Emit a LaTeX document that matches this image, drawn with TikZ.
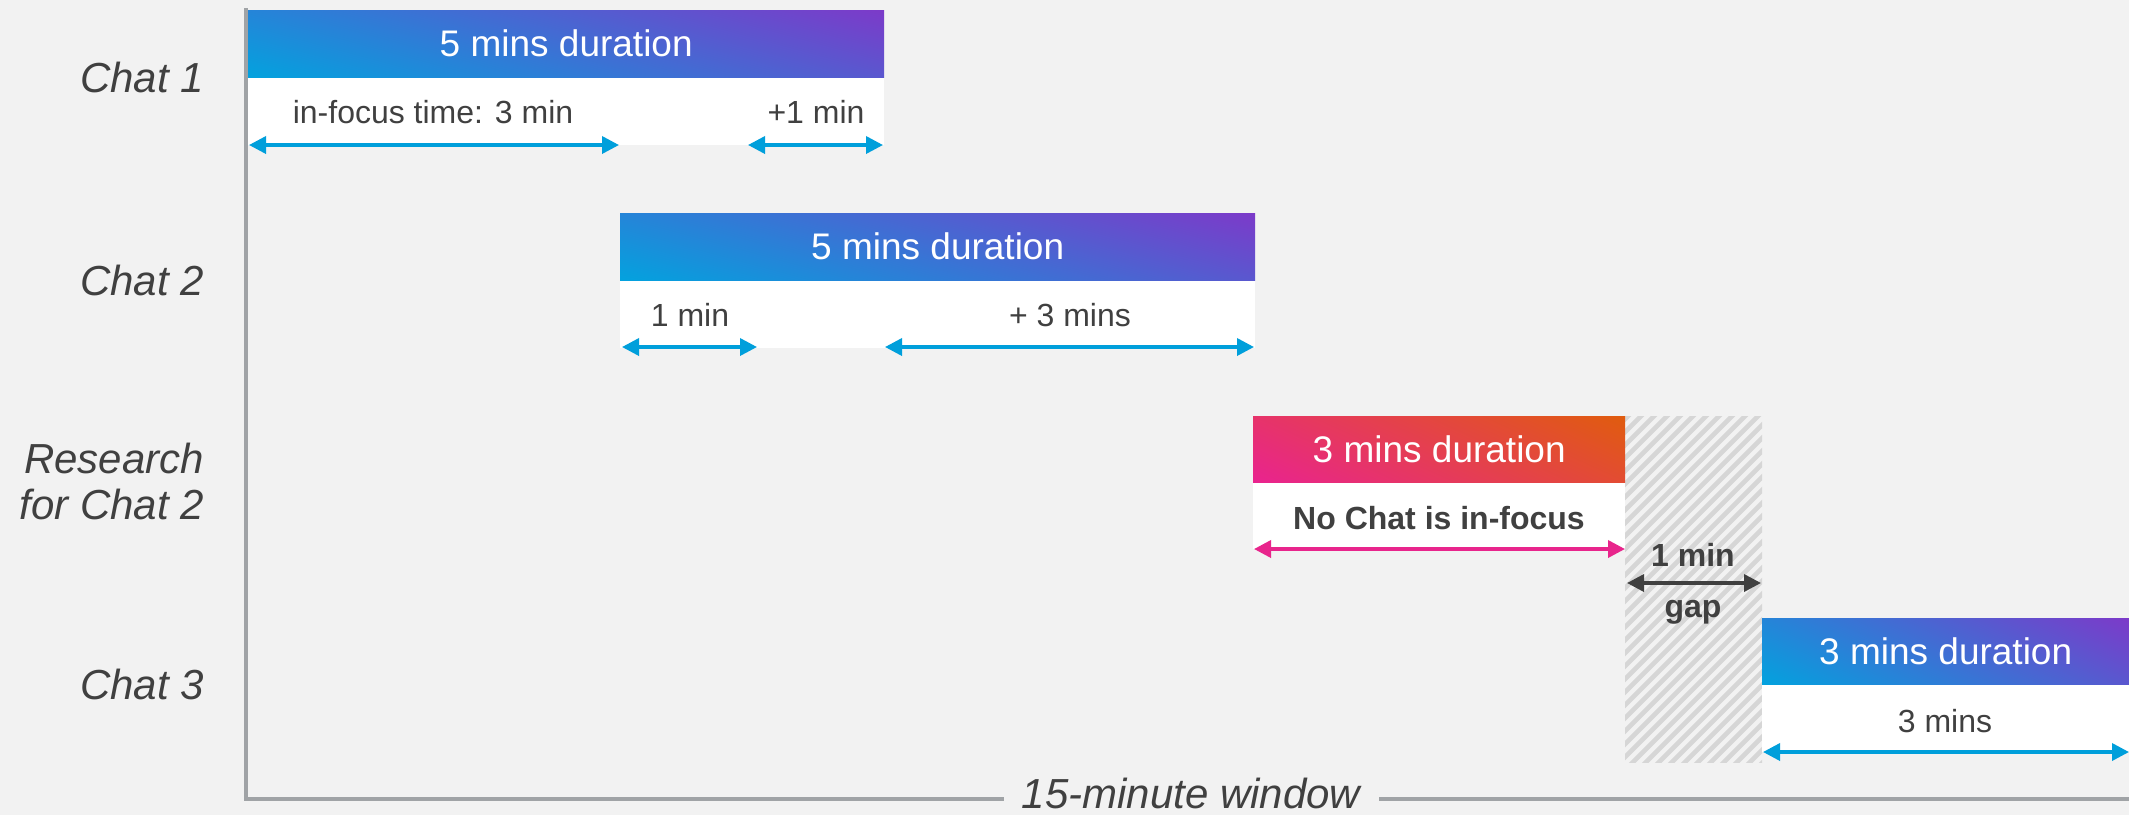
\documentclass[tikz,border=0pt]{standalone}
\usepackage{fontspec}
\setmainfont{Liberation Sans}
\usetikzlibrary{arrows.meta,shadings}
\definecolor{bg}{HTML}{F2F2F2}
\definecolor{txt}{HTML}{404040}
\definecolor{axisgray}{HTML}{A0A3A6}
\definecolor{cyanA}{HTML}{03A2DE}
\definecolor{purpleA}{HTML}{7C3AC9}
\definecolor{pinkA}{HTML}{E9238F}
\definecolor{orangeA}{HTML}{E05C0E}
\definecolor{arrowblue}{HTML}{009FDB}
\definecolor{arrowpink}{HTML}{E8258C}
\definecolor{hatchgray}{HTML}{D6D6D6}
\begin{document}
\begin{tikzpicture}[x=1pt,y=-1pt,
  hdr/.style={draw=none, text=white, font=\fontsize{37}{44}\selectfont, anchor=north west, inner sep=0pt, minimum height=67pt},
  hdrblue/.style={hdr, lower left=cyanA, upper right=purpleA, upper left=cyanA!72!purpleA, lower right=cyanA!28!purpleA},
  hdrpink/.style={hdr, lower left=pinkA, upper right=orangeA, upper left=pinkA!72!orangeA, lower right=pinkA!28!orangeA},
  bodybox/.style={fill=white, draw=none, anchor=north west, inner sep=0pt, minimum height=68pt},
  bodytxt/.style={text=txt, font=\fontsize{32}{38}\selectfont, anchor=base, inner sep=0pt},
  boldtxt/.style={bodytxt, font=\fontsize{32}{38}\selectfont\bfseries},
  rowlabel/.style={text=txt, font=\fontsize{42}{46}\selectfont\itshape, inner sep=0pt},
  dimarrow/.style={line width=3.5pt, {Triangle[length=17pt,width=17pt]}-{Triangle[length=17pt,width=17pt]}},
  bluearrow/.style={dimarrow, draw=arrowblue},
  pinkarrow/.style={dimarrow, draw=arrowpink},
  grayarrow/.style={dimarrow, draw=txt},
  axisline/.style={draw=axisgray, line width=3.5pt},
  stripe/.style={draw=hatchgray, line width=4.6pt}
]
\useasboundingbox (0,0) rectangle (2129,815);
\fill[bg] (0,0) rectangle (2129,815);

% axes
\coordinate (ytop) at (246,10);
\coordinate (corner) at (246,799);
\coordinate (xend) at (2135,799);
\node[text=txt, font=\fontsize{42}{46}\selectfont\itshape, anchor=base, inner xsep=19pt, inner ysep=0pt] (win) at (1191,808) {15-minute window};
\draw[axisline, line cap=rect] (ytop) -- (corner) -- (win.west |- corner);
\draw[axisline] (win.east |- corner) -- (xend);

% gap hatch
\fill[bg] (1625,416) rectangle (1762,762);
\begin{scope}
  \clip (1625,416) rectangle (1762,762);
  \foreach \i in {-28,...,12} {
    \draw[stripe] (1625+\i*13,770) -- ++(360,-360);
  }
\end{scope}

% row labels
\node[rowlabel, anchor=base east] (l1) at (204,92) {Chat 1};
\node[rowlabel, anchor=base east] (l2) at (204,295) {Chat 2};
\node[rowlabel, anchor=east, align=right] (l3) at (204,481) {Research\\for Chat 2};
\node[rowlabel, anchor=base east] (l4) at (204,699) {Chat 3};

% Chat 1
\node[bodybox, minimum width=636pt] (c1b) at (248,77) {};
\node[hdrblue, minimum width=636pt] (c1h) at (248,10) {5 mins duration};
\node[bodytxt] (c1t1) at (433,123) {in-focus time: 3 min};
\node[bodytxt] (c1t2) at (816,123) {+1 min};
\coordinate (c1a) at (249,145);
\coordinate (c1b1) at (619,145);
\coordinate (c1c) at (748,145);
\coordinate (c1d) at (883,145);
\draw[bluearrow] (c1a) -- (c1b1);
\draw[bluearrow] (c1c) -- (c1d);

% Chat 2
\node[bodybox, minimum width=635pt] (c2b) at (620,280) {};
\node[hdrblue, minimum width=635pt] (c2h) at (620,213) {5 mins duration};
\node[bodytxt] (c2t1) at (690,326) {1 min};
\node[bodytxt] (c2t2) at (1070,326) {+ 3 mins};
\coordinate (c2a) at (622,347);
\coordinate (c2b1) at (757,347);
\coordinate (c2c) at (885,347);
\coordinate (c2d) at (1254,347);
\draw[bluearrow] (c2a) -- (c2b1);
\draw[bluearrow] (c2c) -- (c2d);

% Research
\node[bodybox, minimum width=372pt, minimum height=67pt] (rb) at (1253,482) {};
\node[hdrpink, minimum width=372pt, minimum height=66pt] (rh) at (1253,416) {3 mins duration};
\node[boldtxt] (rt) at (1439,529) {No Chat is in-focus};
\coordinate (ra) at (1254,549);
\coordinate (rb1) at (1625,549);
\draw[pinkarrow] (ra) -- (rb1);

% gap
\node[boldtxt] (g1) at (1693,566) {1 min};
\node[boldtxt] (g2) at (1693,617) {gap};
\coordinate (ga) at (1627,583);
\coordinate (gb) at (1761,583);
\draw[grayarrow] (ga) -- (gb);

% Chat 3
\node[bodybox, minimum width=367pt] (c3b) at (1762,684) {};
\node[hdrblue, minimum width=367pt, minimum height=66pt] (c3h) at (1762,618) {3 mins duration};
\node[bodytxt] (c3t) at (1945,732) {3 mins};
\coordinate (c3a) at (1763,752);
\coordinate (c3b1) at (2129,752);
\draw[bluearrow] (c3a) -- (c3b1);
\end{tikzpicture}
\end{document}
